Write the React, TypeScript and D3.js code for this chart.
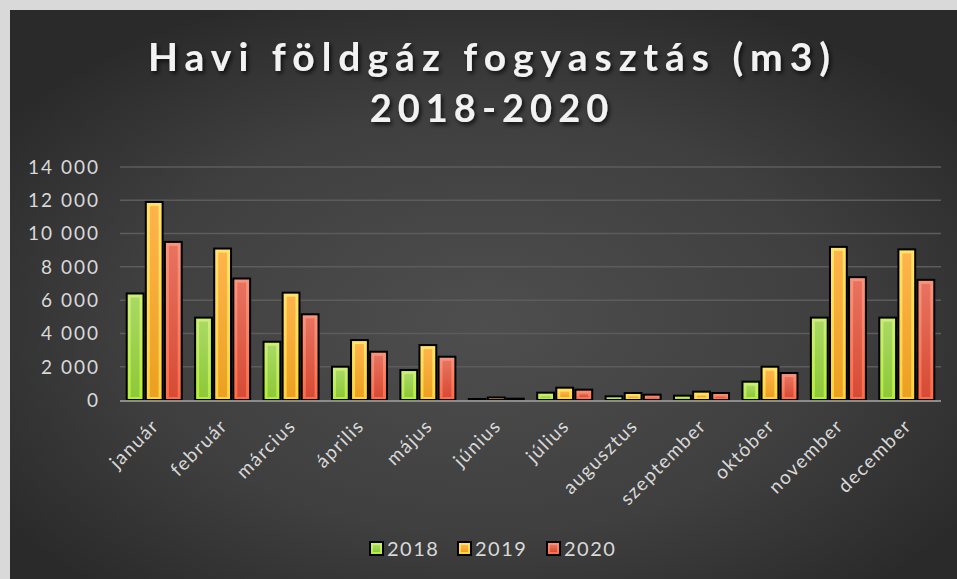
import React from "react";
import * as d3 from "d3";

const months = ["január","február","március","április","május","június","július","augusztus","szeptember","október","november","december"];
const seriesNames = ["2018","2019","2020"];
const v2018 = [6400,4950,3500,2000,1800,60,440,220,260,1100,4950,4950];
const v2019 = [11900,9100,6450,3600,3300,150,740,420,500,2000,9200,9050];
const v2020 = [9500,7300,5150,2900,2600,80,620,320,420,1620,7380,7220];
const yTicks = [0,2000,4000,6000,8000,10000,12000,14000];
const titleLines = ["Havi földgáz fogyasztás (m3)","2018-2020"];

const palette = [
  { edgeTop: "#cdee78", edgeBot: "#b2ee38", inTop: "#a9d964", inBot: "#8ec83a" },
  { edgeTop: "#ffe46a", edgeBot: "#ffd23a", inTop: "#ffb44c", inBot: "#eba022" },
  { edgeTop: "#f8947e", edgeBot: "#ff6a46", inTop: "#e8735f", inBot: "#d64b35" },
];

const W = 957, H = 579;
const left = 120, right = 941, top = 167, bottom = 400;

export default function App() {
  const data = [v2018, v2019, v2020];
  const x0 = d3.scaleBand<string>().domain(months).range([left, right]).paddingInner(0.196).paddingOuter(0.098);
  const x1 = d3.scaleBand<string>().domain(seriesNames).range([0, x0.bandwidth()]).paddingInner(0.12);
  const y = d3.scaleLinear().domain([0, 14000]).range([bottom, top]);
  const fmt = (v: number) => d3.format(",")(v).replace(/,/g, " ");
  const font = "Lato, 'Open Sans', sans-serif";
  const bw = x1.bandwidth();
  const titleLS = [7, 6];

  const legendX = [370, 458, 547];

  return (
    <div style={{ position: "absolute", left: 0, top: 0 }}>
      <svg width={W} height={H} style={{ display: "block" }}>
        <defs>
          <radialGradient id="bg" cx="0.5" cy="0.55" r="0.62">
            <stop offset="0" stopColor="#4e4e4e" />
            <stop offset="0.6" stopColor="#3f3f3f" />
            <stop offset="1" stopColor="#2a2a2a" />
          </radialGradient>
          {palette.map((p, i) => (
            <React.Fragment key={i}>
              <linearGradient id={`edge${i}`} x1="0" y1="0" x2="0" y2="1">
                <stop offset="0" stopColor={p.edgeTop} />
                <stop offset="1" stopColor={p.edgeBot} />
              </linearGradient>
              <linearGradient id={`in${i}`} x1="0" y1="0" x2="0" y2="1">
                <stop offset="0" stopColor={p.inTop} />
                <stop offset="1" stopColor={p.inBot} />
              </linearGradient>
            </React.Fragment>
          ))}
          <filter id="shadow" x="-10%" y="-30%" width="120%" height="160%">
            <feDropShadow dx="2" dy="2.5" stdDeviation="2" floodColor="#000" floodOpacity="0.75" />
          </filter>
        </defs>
        <rect x={0} y={0} width={W} height={H} fill="#d9d9d9" />
        <rect x={10} y={10} width={W - 10} height={H - 10} fill="url(#bg)" />

        {titleLines.map((t, i) => (
          <text key={i} x={489 + titleLS[i] / 2} y={i === 0 ? 71 : 122} textAnchor="middle" fill="#f2f2f2"
            fontFamily={font} fontWeight={700} fontSize={i === 0 ? 39 : 38} letterSpacing={titleLS[i]} filter="url(#shadow)">{t}</text>
        ))}

        {yTicks.map((t) => (
          <g key={t}>
            {t > 0 && <line x1={left} x2={right} y1={y(t)} y2={y(t)} stroke="#5c5c5c" strokeWidth={1.5} />}
            <text x={100} y={y(t)} dy="0.36em" textAnchor="end" fill="#d9d9d9" fontFamily={font} fontSize={19} letterSpacing={2}>{fmt(t)}</text>
          </g>
        ))}

        {months.map((m, mi) => (
          <g key={m}>
            {data.map((vals, si) => {
              const bx = (x0(m) as number) + (x1(seriesNames[si]) as number);
              const by = y(vals[mi]);
              const bh = bottom - by;
              const ins = Math.min(3, bh / 3);
              return (
                <g key={si}>
                  <rect x={bx} y={by} width={bw} height={bh} fill={`url(#edge${si})`} stroke="#000" strokeWidth={2} />
                  {bh > 2 * ins + 1 && (
                    <rect x={bx + ins + 1} y={by + ins + 1} width={Math.max(0, bw - 2 * ins - 2)} height={Math.max(0, bh - 2 * ins - 1)} fill={`url(#in${si})`} />
                  )}
                </g>
              );
            })}
            <text transform={`translate(${(x0(m) as number) + x0.bandwidth() / 2 + 6},${427}) rotate(-45)`} textAnchor="end"
              fill="#d9d9d9" fontFamily={font} fontSize={19} letterSpacing={1.5}>{m}</text>
          </g>
        ))}
        <line x1={left} x2={right} y1={bottom + 1} y2={bottom + 1} stroke="#8c8c8c" strokeWidth={2} />

        {seriesNames.map((s, i) => (
          <g key={s}>
            <rect x={legendX[i]} y={542} width={13} height={13} fill={`url(#edge${i})`} stroke="#000" strokeWidth={2} />
            <rect x={legendX[i] + 3} y={545} width={7} height={7} fill={`url(#in${i})`} />
            <text x={legendX[i] + 17} y={549} dy="0.36em" fill="#d9d9d9" fontFamily={font} fontSize={20} letterSpacing={1.5}>{s}</text>
          </g>
        ))}
      </svg>
    </div>
  );
}
